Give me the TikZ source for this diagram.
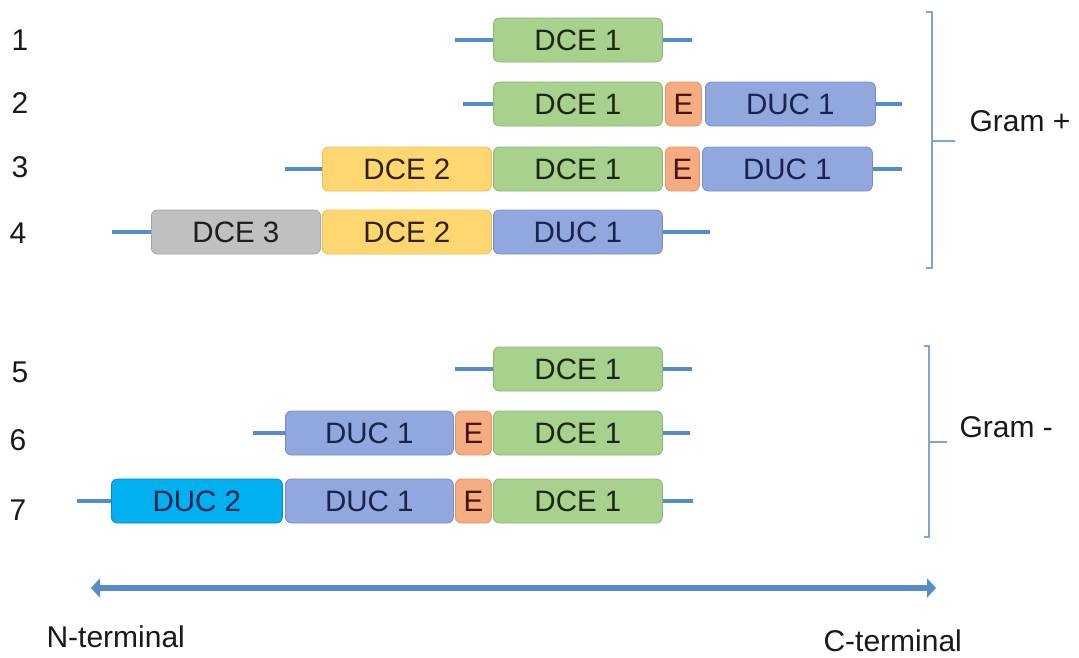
\documentclass[tikz,border=0pt]{standalone}
\usepackage{fontspec}
\setmainfont{Liberation Sans}
\usetikzlibrary{arrows.meta}
\definecolor{lnc}{RGB}{86,140,204}
\definecolor{brc}{RGB}{125,165,215}
\definecolor{gfill}{RGB}{169,209,142}\definecolor{gdraw}{RGB}{140,182,112}
\definecolor{efill}{RGB}{244,172,128}\definecolor{edraw}{RGB}{222,148,105}
\definecolor{ufill}{RGB}{145,168,222}\definecolor{udraw}{RGB}{118,142,200}
\definecolor{yfill}{RGB}{255,214,112}\definecolor{ydraw}{RGB}{235,190,90}
\definecolor{sfill}{RGB}{192,192,192}\definecolor{sdraw}{RGB}{165,165,165}
\definecolor{cfill}{RGB}{0,176,240}\definecolor{cdraw}{RGB}{0,140,205}
\tikzset{
  box/.style={draw, rounded corners=6pt, minimum height=44pt, inner sep=0pt, line width=0.8pt,
    font=\fontsize{29.5}{32}\selectfont, anchor=west},
  dce1/.style={box, fill=gfill, draw=gdraw, text={rgb,255:red,25;green,40;blue,15}, minimum width=169pt},
  dce2/.style={box, fill=yfill, draw=ydraw, text={rgb,255:red,45;green,35;blue,10}, minimum width=169pt},
  dce3/.style={box, fill=sfill, draw=sdraw, text={rgb,255:red,30;green,30;blue,30}, minimum width=169pt},
  duc1/.style={box, fill=ufill, draw=udraw, text={rgb,255:red,25;green,35;blue,75}, minimum width=168pt},
  duc2/.style={box, fill=cfill, draw=cdraw, text={rgb,255:red,10;green,35;blue,80}, minimum width=171pt},
  ebox/.style={box, fill=efill, draw=edraw, text={rgb,255:red,70;green,20;blue,10}, minimum width=36pt},
  stub/.style={draw=lnc, line width=3.5pt},
  brack/.style={draw=brc, line width=2pt},
  lab/.style={font=\fontsize{30}{33}\selectfont, text={rgb,255:red,25;green,25;blue,25}},
}
\begin{document}
\begin{tikzpicture}[x=1pt,y=-1pt]
\useasboundingbox (0,0) rectangle (1079,657);
% row labels
\node[lab] (l1) at (20,40) {1};
\node[lab] (l2) at (20,103) {2};
\node[lab] (l3) at (20,167) {3};
\node[lab] (l4) at (18,233) {4};
\node[lab] (l5) at (20,372) {5};
\node[lab] (l6) at (18,440) {6};
\node[lab] (l7) at (18,510) {7};
% row 1
\coordinate (r1a) at (455,40); \coordinate (r1b) at (692,40);
\node[dce1] (r1d1) at (493,40) {DCE 1};
\draw[stub] (r1a) -- (r1d1.west); \draw[stub] (r1d1.east) -- (r1b);
% row 2
\coordinate (r2a) at (463,104); \coordinate (r2b) at (902,104);
\node[dce1] (r2d1) at (493,104) {DCE 1};
\node[ebox] (r2e) at (665,104) {E};
\node[duc1, minimum width=170pt] (r2u1) at (705,104) {DUC 1};
\draw[stub] (r2a) -- (r2d1.west); \draw[stub] (r2u1.east) -- (r2b);
% row 3
\coordinate (r3a) at (285,169); \coordinate (r3b) at (902,169);
\node[dce2] (r3d2) at (322,169) {DCE 2};
\node[dce1] (r3d1) at (493,169) {DCE 1};
\node[ebox, minimum width=34pt] (r3e) at (665,169) {E};
\node[duc1, minimum width=170pt] (r3u1) at (702,169) {DUC 1};
\draw[stub] (r3a) -- (r3d2.west); \draw[stub] (r3u1.east) -- (r3b);
% row 4
\coordinate (r4a) at (112,232); \coordinate (r4b) at (710,232);
\node[dce3] (r4d3) at (151,232) {DCE 3};
\node[dce2] (r4d2) at (322,232) {DCE 2};
\node[duc1, minimum width=169pt] (r4u1) at (493,232) {DUC 1};
\draw[stub] (r4a) -- (r4d3.west); \draw[stub] (r4u1.east) -- (r4b);
% row 5
\coordinate (r5a) at (455,369); \coordinate (r5b) at (692,369);
\node[dce1] (r5d1) at (493,369) {DCE 1};
\draw[stub] (r5a) -- (r5d1.west); \draw[stub] (r5d1.east) -- (r5b);
% row 6
\coordinate (r6a) at (253,433); \coordinate (r6b) at (690,433);
\node[duc1] (r6u1) at (285,433) {DUC 1};
\node[ebox] (r6e) at (455,433) {E};
\node[dce1] (r6d1) at (493,433) {DCE 1};
\draw[stub] (r6a) -- (r6u1.west); \draw[stub] (r6d1.east) -- (r6b);
% row 7
\coordinate (r7a) at (77,501); \coordinate (r7b) at (693,501);
\node[duc2] (r7u2) at (111,501) {DUC 2};
\node[duc1] (r7u1) at (285,501) {DUC 1};
\node[ebox] (r7e) at (455,501) {E};
\node[dce1] (r7d1) at (493,501) {DCE 1};
\draw[stub] (r7a) -- (r7u2.west); \draw[stub] (r7d1.east) -- (r7b);
% Gram + bracket
\coordinate (gp1) at (926,12); \coordinate (gp2) at (932,12);
\coordinate (gp3) at (932,268); \coordinate (gp4) at (926,268);
\coordinate (gpm) at (932,141); \coordinate (gpt) at (955,141);
\draw[brack] (gp1) -- (gp2) -- (gp3) -- (gp4);
\draw[brack] (gpm) -- (gpt);
\node[lab, anchor=west] (gramp) at (966,121) {Gram +};
% Gram - bracket
\coordinate (gm1) at (924,346); \coordinate (gm2) at (929,346);
\coordinate (gm3) at (929,537); \coordinate (gm4) at (924,537);
\coordinate (gmm) at (929,442); \coordinate (gmt) at (947,442);
\draw[brack] (gm1) -- (gm2) -- (gm3) -- (gm4);
\draw[brack] (gmm) -- (gmt);
\node[lab, anchor=west] (gramm) at (956,427) {Gram -};
% axis arrow
\coordinate (axl) at (91,588); \coordinate (axr) at (936,588);
\draw[draw=lnc, line width=6pt, {Triangle[width=19pt,length=9pt]}-{Triangle[width=19pt,length=9pt]}] (axl) -- (axr);
\node[lab, anchor=west] (nt) at (43,637) {N-terminal};
\node[lab, anchor=west] (ct) at (820,641) {C-terminal};
\end{tikzpicture}
\end{document}
